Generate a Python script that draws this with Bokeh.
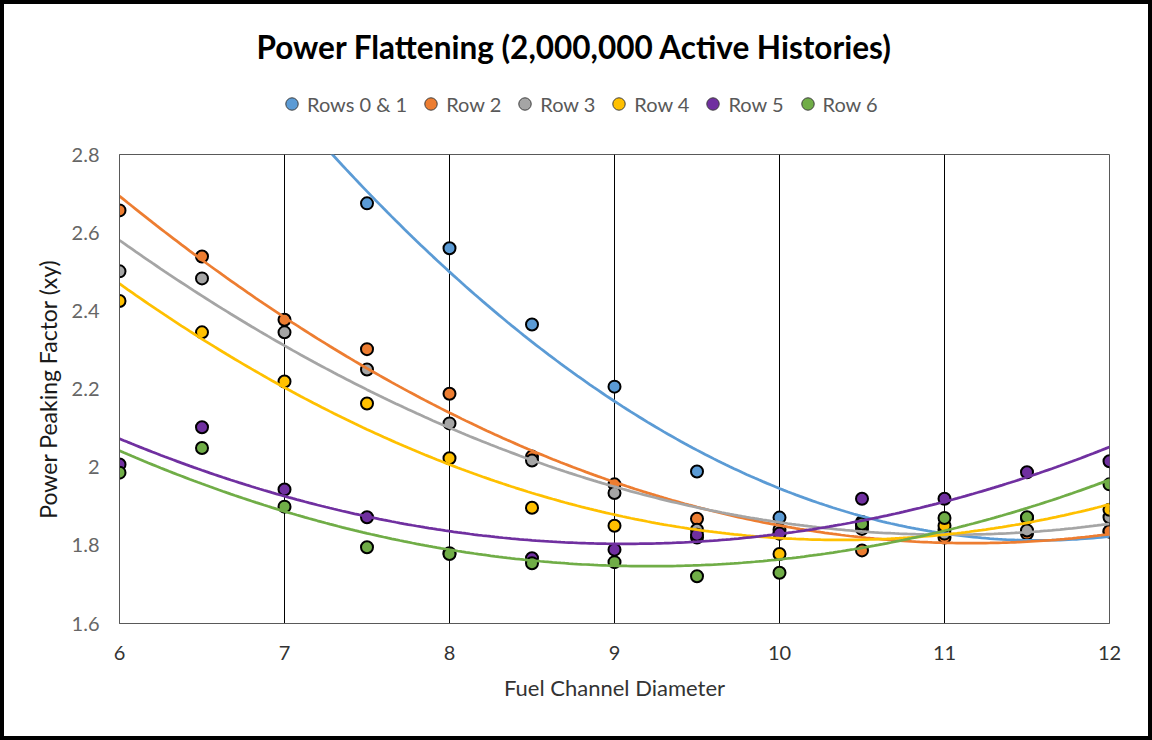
import numpy as np
from bokeh.plotting import figure
from bokeh.layouts import column
from bokeh.models import (Range1d, FixedTicker, CustomJSTickFormatter,
                          Legend, LegendItem, Label)
from bokeh.embed import file_html
from bokeh.resources import INLINE

# ---- data ----
diameters = [6, 6.5, 7, 7.5, 8, 8.5, 9, 9.5, 10, 10.5, 11, 11.5, 12]
rows_0_1 = [3.46, 3.20, 2.95, 2.675, 2.56, 2.365, 2.206, 1.989, 1.871, 1.86, 1.84, 1.835, 1.835]
row_2 = [2.657, 2.539, 2.377, 2.302, 2.188, 2.027, 1.956, 1.868, 1.83, 1.787, 1.82, 1.83, 1.836]
row_3 = [2.501, 2.483, 2.345, 2.250, 2.112, 2.017, 1.934, 1.84, 1.84, 1.842, 1.83, 1.838, 1.872]
row_4 = [2.425, 2.345, 2.219, 2.163, 2.023, 1.896, 1.850, 1.82, 1.778, 1.85, 1.85, 1.87, 1.891]
row_5 = [2.007, 2.102, 1.943, 1.872, 1.78, 1.767, 1.789, 1.827, 1.83, 1.919, 1.919, 1.987, 2.015]
row_6 = [1.986, 2.049, 1.899, 1.795, 1.778, 1.754, 1.757, 1.721, 1.730, 1.855, 1.870, 1.872, 1.956]

series_names = ["Rows 0 & 1", "Row 2", "Row 3", "Row 4", "Row 5", "Row 6"]
series_values = [rows_0_1, row_2, row_3, row_4, row_5, row_6]
series_colors = ["#5B9BD5", "#ED7D31", "#A5A5A5", "#FFC000", "#7030A0", "#70AD47"]

x_ticks = [6, 7, 8, 9, 10, 11, 12]
y_ticks = [1.6, 1.8, 2.0, 2.2, 2.4, 2.6, 2.8]

chart_title = "Power Flattening (2,000,000 Active Histories)"
FONT = "Lato"

# ---------------- header: title + legend ----------------
# (its frame is aligned with the main chart's frame by the column layout)
header = figure(width=1144, height=125, x_range=Range1d(0, 1), y_range=Range1d(0, 1),
                x_axis_type=None, y_axis_type=None, output_backend="svg",
                toolbar_location=None, min_border=0,
                background_fill_color="white", border_fill_color="white")
header.outline_line_color = None
header.xgrid.visible = False
header.ygrid.visible = False

items = []
for name, vals, col in zip(series_names, series_values, series_colors):
    # same series data; it falls outside this header's ranges, so only the legend swatch shows
    r = header.scatter(diameters, vals, size=13, fill_color=col,
                       line_color="#404040", line_width=1)
    items.append(LegendItem(label=name, renderers=[r]))
legend = Legend(items=items, orientation="horizontal", location=(157, 10),
                glyph_width=31, glyph_height=31, label_standoff=0, spacing=8,
                padding=0, margin=0, border_line_color=None, background_fill_alpha=0,
                label_text_font=FONT, label_text_font_size="20px",
                label_text_color="#595959")
header.add_layout(legend)

header.add_layout(Label(x=455, y=83, x_units="screen", y_units="screen",
                        text=chart_title, text_align="center", text_baseline="middle",
                        text_font=FONT, text_font_size="31.5px", text_font_style="bold",
                        text_color="black"))

# ---------------- main chart ----------------
p = figure(width=1144, height=607,
           x_range=Range1d(6, 12), y_range=Range1d(1.6, 2.8),
           output_backend="svg", toolbar_location=None,
           min_border_left=115, min_border_right=39,
           min_border_top=25, min_border_bottom=113,
           background_fill_color="white", border_fill_color="white")

p.outline_line_color = "#595959"
p.outline_line_width = 1

p.xgrid.ticker = FixedTicker(ticks=x_ticks)
p.xgrid.grid_line_color = "black"
p.xgrid.grid_line_width = 1
p.ygrid.grid_line_color = None

p.xaxis.ticker = FixedTicker(ticks=x_ticks)
p.yaxis.ticker = FixedTicker(ticks=y_ticks)
p.yaxis.formatter = CustomJSTickFormatter(code="return tick.toFixed(1).replace(/\\.0$/, '')")
for ax in (p.xaxis[0], p.yaxis[0]):
    ax.major_tick_line_color = None
    ax.minor_tick_line_color = None
    ax.major_tick_out = 0
    ax.major_tick_in = 0
    ax.axis_line_color = "#595959"
    ax.axis_line_width = 1
    ax.major_label_text_font = FONT
    ax.major_label_text_font_size = "20px"
    ax.axis_label_text_font = FONT
    ax.axis_label_text_font_size = "22px"
    ax.axis_label_text_font_style = "normal"

p.yaxis.axis_label_text_font_size = "23px"
p.xaxis.major_label_text_color = "#333333"
p.yaxis.major_label_text_color = "#666666"
p.xaxis.axis_label = "Fuel Channel Diameter"
p.yaxis.axis_label = "Power Peaking Factor (xy)"
p.xaxis.axis_label_text_color = "#333333"
p.yaxis.axis_label_text_color = "#1a1a1a"
p.xaxis.major_label_standoff = 22
p.xaxis.axis_label_standoff = 11
p.yaxis.major_label_standoff = 20
p.yaxis.axis_label_standoff = 7

for vals, col in zip(series_values, series_colors):
    p.scatter(diameters, vals, size=12, fill_color=col, line_color="black", line_width=2)

# quadratic trendlines (least-squares fit of the data)
xs = np.linspace(6, 12, 241)
for vals, col in zip(series_values, series_colors):
    coef = np.polyfit(diameters, vals, 2)
    p.line(xs, np.polyval(coef, xs), line_color=col, line_width=2.75)

layout = column(header, p, spacing=0,
                styles={"border": "4px solid black", "box-sizing": "content-box"})

open("out.html", "w").write(file_html(layout, INLINE))
